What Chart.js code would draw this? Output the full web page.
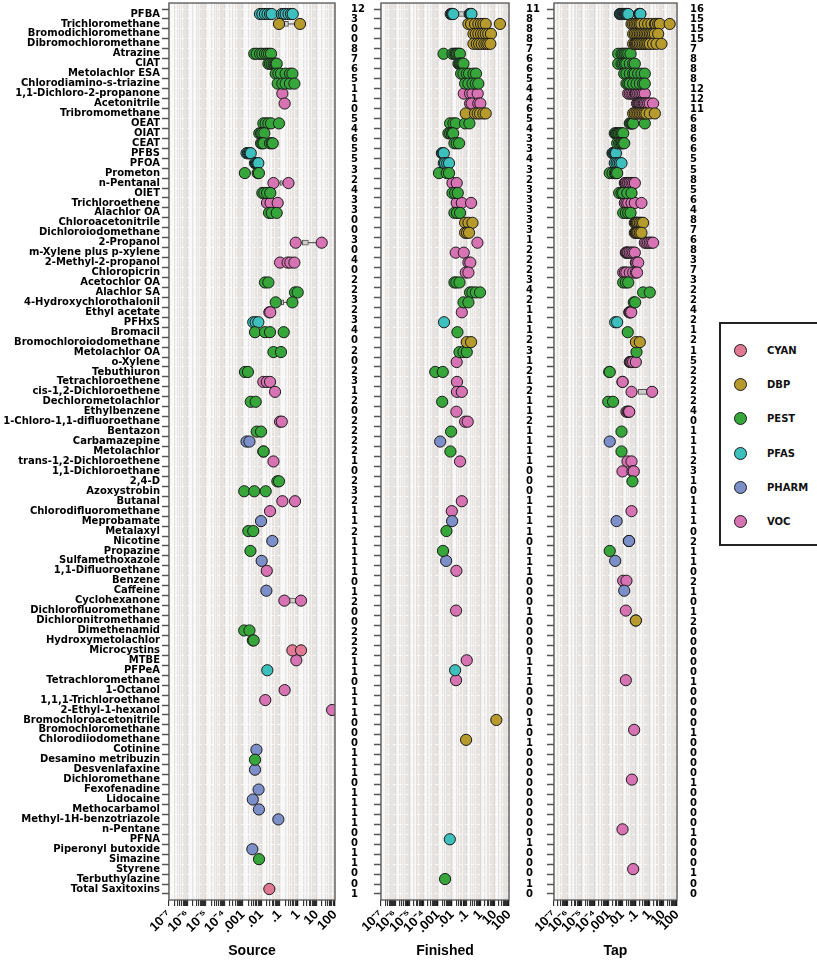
<!DOCTYPE html>
<html>
<head>
<meta charset="utf-8">
<script src="https://cdn.jsdelivr.net/npm/chart.js@4.4.0/dist/chart.umd.min.js"></script>
<style>
  body { margin: 0; background: #fff; width: 817px; height: 962px; position: relative; overflow: hidden;
         font-family: "DejaVu Sans", Arial, sans-serif; }
  canvas { position: absolute; top: 0; }
  #legend { position: absolute; left: 719px; top: 322px; width: 110px; height: 224px;
            border: 2px solid #222; box-sizing: border-box; background: #fff; }
  .item { position: absolute; left: 0; height: 14px; font-weight: bold; font-size: 10px; color: #111; }
  .dot { position: absolute; left: 13px; top: 0; width: 11px; height: 11px; border-radius: 50%; border: 1px solid #1b1b1b; }
  .lab { position: absolute; left: 46px; top: 0; line-height: 13px; }
</style>
</head>
<body>
<canvas id="srcChart" width="365" height="962" style="left:0px"></canvas>
<canvas id="finChart" width="200" height="962" style="left:345px"></canvas>
<canvas id="tapChart" width="195" height="962" style="left:520px"></canvas>
<div id="legend"></div>

<script>
const chemicals = ["PFBA","Trichloromethane","Bromodichloromethane","Dibromochloromethane","Atrazine","CIAT",
  "Metolachlor ESA","Chlorodiamino-s-triazine","1,1-Dichloro-2-propanone","Acetonitrile","Tribromomethane",
  "OEAT","OIAT","CEAT","PFBS","PFOA","Prometon","n-Pentanal","OIET","Trichloroethene","Alachlor OA",
  "Chloroacetonitrile","Dichloroiodomethane","2-Propanol","m-Xylene plus p-xylene","2-Methyl-2-propanol",
  "Chloropicrin","Acetochlor OA","Alachlor SA","4-Hydroxychlorothalonil","Ethyl acetate","PFHxS","Bromacil",
  "Bromochloroiodomethane","Metolachlor OA","o-Xylene","Tebuthiuron","Tetrachloroethene","cis-1,2-Dichloroethene",
  "Dechlorometolachlor","Ethylbenzene","1-Chloro-1,1-difluoroethane","Bentazon","Carbamazepine","Metolachlor",
  "trans-1,2-Dichloroethene","1,1-Dichloroethane","2,4-D","Azoxystrobin","Butanal","Chlorodifluoromethane",
  "Meprobamate","Metalaxyl","Nicotine","Propazine","Sulfamethoxazole","1,1-Difluoroethane","Benzene","Caffeine",
  "Cyclohexanone","Dichlorofluoromethane","Dichloronitromethane","Dimethenamid","Hydroxymetolachlor",
  "Microcystins","MTBE","PFPeA","Tetrachloromethane","1-Octanol","1,1,1-Trichloroethane","2-Ethyl-1-hexanol",
  "Bromochloroacetonitrile","Bromochloromethane","Chlorodiiodomethane","Cotinine","Desamino metribuzin",
  "Desvenlafaxine","Dichloromethane","Fexofenadine","Lidocaine","Methocarbamol","Methyl-1H-benzotriazole",
  "n-Pentane","PFNA","Piperonyl butoxide","Simazine","Styrene","Terbuthylazine","Total Saxitoxins"];

const chemClass = ["PFAS","DBP","DBP","DBP","PEST","PEST","PEST","PEST","VOC","VOC","DBP","PEST","PEST","PEST",
  "PFAS","PFAS","PEST","VOC","PEST","VOC","PEST","DBP","DBP","VOC","VOC","VOC","VOC","PEST","PEST","PEST","VOC",
  "PFAS","PEST","DBP","PEST","VOC","PEST","VOC","VOC","PEST","VOC","VOC","PEST","PHARM","PEST","VOC","VOC","PEST",
  "PEST","VOC","VOC","PHARM","PEST","PHARM","PEST","PHARM","VOC","VOC","PHARM","VOC","VOC","DBP","PEST","PEST",
  "CYAN","VOC","PFAS","VOC","VOC","VOC","VOC","DBP","VOC","DBP","PHARM","PEST","PHARM","VOC","PHARM","PHARM",
  "PHARM","PHARM","VOC","PFAS","PHARM","PEST","VOC","PEST","CYAN"];

const classes = ["CYAN","DBP","PEST","PFAS","PHARM","VOC"];

// detection counts shown at the right of each panel
const sourceN = [12,3,0,0,8,7,6,5,1,1, 0,5,4,6,5,5,3,2,4,3, 3,0,0,3,0,4,0,2,2,3, 2,3,4,0,2,0,2,3,1,2,
  0,2,2,2,2,1,0,2,3,2, 1,1,2,1,1,1,1,0,1,2, 0,0,2,2,2,1,1,0,1,1, 1,0,0,0,1,1,1,0,1,1, 1,1,0,0,1,1,0,0,1];
const finishedN = [11,8,8,8,7,6,6,5,4,4, 6,5,4,3,3,4,3,2,3,3, 3,3,3,1,2,2,2,3,4,2, 1,1,1,2,3,1,2,1,2,1,
  1,2,1,1,1,1,0,0,0,1, 1,1,1,0,1,1,1,0,0,0, 1,0,0,0,0,1,1,1,0,0, 0,1,0,1,0,0,0,0,0,0, 0,0,0,1,0,0,0,1,0];
const tapN = [16,15,15,15,7,8,8,8,12,12, 11,6,8,6,6,5,5,8,5,6, 4,8,7,6,8,3,7,3,2,2, 4,2,1,2,1,5,2,2,2,2,
  4,0,1,1,1,2,3,1,0,1, 1,1,0,2,1,1,0,2,1,0, 1,2,0,0,0,0,0,1,0,0, 0,0,1,0,0,0,0,1,0,0, 0,0,1,0,0,0,1,0,0];

// concentrations per chemical (same order as chemicals)
const sourceVals = [
  [0.0086,0.0115,0.016,0.022,0.030,0.037,0.13,0.166,0.21,0.30,0.41,0.51],
  [0.092,1.27], [], [],
  [0.0042,0.0057,0.0086,0.0115,0.016,0.0206,0.0265,0.034],
  [0.0245,0.030,0.037,0.046,0.052,0.061,0.069],
  [0.061,0.085,0.118,0.21,0.36,0.49],
  [0.078,0.14,0.21,0.36,0.63],
  [0.14], [0.186], [],
  [0.013,0.0175,0.0245,0.034,0.092],
  [0.0079,0.0098,0.0115,0.0148],
  [0.0098,0.0115,0.0135,0.030,0.037,0.042],
  [0.0016,0.0019,0.0021,0.0024,0.0027],
  [0.0046,0.0052,0.0059,0.0064,0.0070],
  [0.0013,0.0064,0.0075],
  [0.046,0.30],
  [0.0115,0.0148,0.0206,0.031],
  [0.0206,0.032,0.078],
  [0.0265,0.037,0.069],
  [], [],
  [0.74,19], [],
  [0.105,0.27,0.38,0.63], [],
  [0.016,0.0245],
  [0.68,0.95],
  [0.061,0.49],
  [0.0275,0.031],
  [0.0037,0.0050,0.0070],
  [0.0046,0.016,0.030,0.166], [],
  [0.046,0.118], [],
  [0.00132,0.0019],
  [0.013,0.020,0.030],
  [0.056],
  [0.0027,0.0050], [],
  [0.105,0.13],
  [0.0057,0.0098],
  [0.0016,0.0023],
  [0.013,0.0135],
  [0.046], [],
  [0.075,0.092],
  [0.0012,0.0042,0.0175],
  [0.14,0.68],
  [0.030], [0.0098],
  [0.0020,0.0037],
  [0.040], [0.0026], [0.0106], [0.020], [], [0.019],
  [0.18,1.44], [], [],
  [0.0012,0.0023],
  [0.0035,0.0039],
  [0.49,1.44],
  [0.80], [0.0214], [], [0.186], [0.0166], [70], [], [], [],
  [0.0055], [0.0046], [0.0046], [], [0.0072], [0.0035], [0.0075], [0.085], [], [],
  [0.0033], [0.0076], [], [], [0.0275]
];

const finishedVals = [
  [0.0080,0.0095,0.0106,0.012,0.17,0.19,0.215,0.23],
  [0.14,0.215,0.41,0.70,1.08,1.58,2.3,23],
  [0.315,0.46,0.70,1.08,1.58,2.3,3.5,5.4],
  [0.315,0.54,0.79,1.2,1.85,2.6,3.5,4.9],
  [0.0025,0.0106,0.0146,0.018,0.022,0.028,0.035],
  [0.028,0.033,0.038,0.045,0.053,0.063],
  [0.043,0.063,0.107,0.155,0.315,0.48],
  [0.082,0.14,0.27,0.46,0.70],
  [0.066,0.183,0.27,0.63],
  [0.183,0.24,0.70,0.97],
  [0.091,0.41,0.63,0.92,1.58,2.3],
  [0.0072,0.0124,0.018,0.082,0.165],
  [0.0055,0.0072,0.0095,0.0118],
  [0.0146,0.021,0.031],
  [0.0019,0.0022,0.0026],
  [0.0026,0.0032,0.0045,0.0061],
  [0.0012,0.0042,0.0061],
  [0.0106,0.021],
  [0.0106,0.0163,0.025],
  [0.021,0.048,0.215],
  [0.0146,0.022,0.036],
  [0.082,0.14,0.27],
  [0.082,0.112,0.155],
  [0.60],
  [0.018,0.066],
  [0.14,0.19],
  [0.091,0.14],
  [0.0146,0.020,0.033],
  [0.183,0.27,0.46,0.92],
  [0.063,0.14],
  [0.048], [0.0027], [0.0237],
  [0.107,0.215],
  [0.033,0.063,0.107],
  [0.021],
  [0.00065,0.0022],
  [0.022],
  [0.022,0.048],
  [0.0020], [0.020],
  [0.082,0.125],
  [0.0085], [0.00145], [0.0076], [0.036], [], [], [],
  [0.048], [0.0095], [0.0100], [0.0040], [], [0.0023], [0.0038], [0.020], [], [], [],
  [0.019], [], [], [], [], [0.107], [0.0163], [0.019], [], [], [],
  [12.9], [], [0.096], [], [], [], [], [], [], [], [], [],
  [0.0069], [], [], [], [0.0032], []
];

const tapVals = [
  [0.0066,0.0074,0.0087,0.0103,0.0116,0.0137,0.0153,0.018,0.020,0.023,0.027,0.17,0.18,0.19,0.20,0.21],
  [0.047,0.062,0.082,0.109,0.144,0.19,0.25,0.44,0.77,1.35,2.4,2.8,4.2,5.5,29],
  [0.062,0.082,0.109,0.144,0.19,0.25,0.33,0.44,0.58,0.77,1.02,1.35,1.78,2.4,4.2],
  [0.062,0.082,0.097,0.12,0.144,0.19,0.25,0.33,0.44,0.58,0.77,1.02,1.78,3.2,7.3],
  [0.0050,0.0087,0.0116,0.0153,0.020,0.027,0.040],
  [0.0050,0.0087,0.0116,0.0153,0.020,0.035,0.062,0.082],
  [0.0137,0.020,0.035,0.062,0.082,0.144,0.25,0.44],
  [0.020,0.027,0.035,0.062,0.109,0.19,0.33,0.44],
  [0.027,0.035,0.047,0.062,0.082,0.097,0.109,0.144,0.19,0.25,0.33,0.44],
  [0.12,0.144,0.17,0.20,0.25,0.30,0.37,0.44,0.58,0.77,1.02,1.78],
  [0.062,0.082,0.109,0.144,0.19,0.25,0.33,0.44,0.58,1.02,2.4],
  [0.035,0.040,0.047,0.055,0.062,0.44],
  [0.0028,0.0034,0.0042,0.0050,0.0059,0.0074,0.0092,0.0116],
  [0.0042,0.0059,0.0074,0.0092,0.0116,0.0137],
  [0.0019,0.0021,0.0025,0.0028,0.0030,0.0034],
  [0.0028,0.0038,0.0050,0.0066,0.0087],
  [0.0012,0.0019,0.0028,0.0034,0.0042],
  [0.0153,0.018,0.023,0.027,0.035,0.047,0.062,0.082],
  [0.0059,0.0087,0.0116,0.023,0.047],
  [0.0153,0.020,0.027,0.047,0.082,0.25],
  [0.0116,0.018,0.027,0.040],
  [0.082,0.097,0.109,0.12,0.144,0.19,0.25,0.33],
  [0.082,0.097,0.109,0.12,0.144,0.19,0.25],
  [0.44,0.58,0.77,1.02,1.35,1.78],
  [0.018,0.020,0.023,0.027,0.035,0.047,0.062,0.082],
  [0.097,0.109,0.144],
  [0.0116,0.0153,0.020,0.035,0.062,0.097,0.12],
  [0.0116,0.018,0.027],
  [0.33,1.02],
  [0.069,0.087],
  [0.032,0.035,0.040,0.045],
  [0.0030,0.0042],
  [0.025],
  [0.097,0.19],
  [0.109],
  [0.035,0.040,0.047,0.062,0.097],
  [0.0011,0.0012],
  [0.0103,0.0105],
  [0.047,1.51],
  [0.00093,0.0021],
  [0.020,0.025,0.030,0.032],
  [],
  [0.0087], [0.0012], [0.0087],
  [0.024,0.047],
  [0.0103,0.055,0.069],
  [0.055], [], [], [0.047], [0.0038], [],
  [0.030,0.031], [0.0012], [0.0030], [],
  [0.0116,0.020], [0.0137], [], [0.018], [0.097,0.099], [], [], [], [], [],
  [0.018], [], [], [], [], [0.073], [], [], [], [], [0.050], [], [], [], [],
  [0.0103], [], [], [], [0.062], [], []
];

// range boxes: [row, low, boxLow, boxHigh, high]
const sourceBoxes = [[1,0.092,0.18,0.30,1.27],[17,0.046,0.105,0.14,0.30],[23,0.74,1.7,3.6,19],
  [29,0.061,0.118,0.166,0.49],[59,0.18,0.32,0.84,1.44]];
const finishedBoxes = [[0,0.0106,0.028,0.082,0.215]];
const tapBoxes = [[38,0.047,0.144,0.65,1.51]];

const xTickValues = [1e-7,1e-6,1e-5,1e-4,1e-3,1e-2,1e-1,1,10,100];
const xTickLabels = ["10\u207B\u2077","10\u207B\u2076","10\u207B\u2075","10\u207B\u2074",".001",".01",".1","1","10","100"];

const colors = { CYAN: "#e17994", DBP: "#b69a2c", PEST: "#36a63b", PFAS: "#3dbfbd", PHARM: "#7d8fc8", VOC: "#d873b3" };

const labelFont = { family: '"DejaVu Sans", Arial, sans-serif', size: 10, weight: "bold" };
Chart.defaults.font.family = '"Liberation Sans", Arial, sans-serif';
Chart.defaults.font.weight = "bold";
Chart.defaults.color = "#000";

// minor grid positions 1..9 per decade
const gridValues = [];
for (let d = 0; d < xTickValues.length - 1; d++) {
  for (let k = 1; k <= 9; k++) gridValues.push(k * xTickValues[d]);
}
gridValues.push(xTickValues[xTickValues.length - 1]);

function majorIndex(v) {
  return xTickValues.findIndex(t => Math.abs(v / t - 1) < 1e-6);
}

const frame = {
  id: "frame",
  beforeDraw(chart) {
    const { ctx, chartArea: a } = chart;
    ctx.save();
    ctx.fillStyle = "#f9f8f8";
    ctx.fillRect(a.left, a.top, a.right - a.left, a.bottom - a.top);
    ctx.restore();
  },
  afterDraw(chart) {
    const { ctx, chartArea: a } = chart;
    ctx.save();
    ctx.strokeStyle = "#555";
    ctx.lineWidth = 1.3;
    ctx.strokeRect(a.left, a.top, a.right - a.left, a.bottom - a.top);
    ctx.restore();
  }
};

function makePanel(id, vals, counts, boxes, title, leftW, rightW, countPad, showNames) {
  const datasets = classes.map(c => ({
    type: "scatter",
    label: c,
    order: 0,
    data: vals.flatMap((row, i) => chemClass[i] === c ? row.map(v => ({ x: v, y: i })) : []),
    backgroundColor: colors[c],
    borderColor: "#1b1b1b",
    borderWidth: 1,
    pointRadius: 5.6
  }));
  boxes.forEach(b => {
    datasets.push({
      type: "scatter", showLine: true, order: 2,
      data: [{ x: b[1], y: b[0] }, { x: b[4], y: b[0] }],
      borderColor: "#444", borderWidth: 1, pointRadius: 0
    });
  });
  if (boxes.length) {
    datasets.push({
      type: "bar", indexAxis: "y", order: 1,
      data: boxes.map(b => ({ y: b[0], x: [b[2], b[3]] })),
      backgroundColor: "#cfcdcb", borderColor: "#555", borderWidth: 1,
      barThickness: 5, borderSkipped: false
    });
  }

  return new Chart(document.getElementById(id), {
    type: "scatter",
    data: { datasets },
    options: {
      responsive: false,
      animation: false,
      devicePixelRatio: 1,
      layout: { padding: { top: 3, bottom: 0, left: 0, right: 0 }, autoPadding: false },
      plugins: { legend: { display: false }, tooltip: { enabled: false } },
      scales: {
        x: {
          type: "logarithmic", min: 1e-7, max: 100,
          afterBuildTicks: s => { s.ticks = gridValues.map(v => ({ value: v })); },
          afterFit: s => { s.height = 62; s.paddingLeft = 0; s.paddingRight = 0; },
          ticks: {
            autoSkip: false, minRotation: 45, maxRotation: 45, padding: 1,
            font: { size: 13, weight: "bold" }, color: "#000",
            callback: v => { const j = majorIndex(v); return j >= 0 ? xTickLabels[j] : ""; }
          },
          grid: {
            color: c => (c.tick && majorIndex(c.tick.value) >= 0) ? "#dcd9d6" : "#e6e3e1",
            lineWidth: 1.3, drawTicks: true, tickLength: 6, tickColor: "#111", tickWidth: 1
          },
          border: { display: false },
          title: { display: true, text: title, font: { size: 14, weight: "bold" }, color: "#000",
                   padding: { top: 0, bottom: 2 } }
        },
        y: {
          type: "linear", position: "left", reverse: true, min: -0.6, max: 88.6,
          afterBuildTicks: s => { s.ticks = chemicals.map((_, i) => ({ value: i })); },
          afterFit: s => { s.width = leftW; s.paddingTop = 0; s.paddingBottom = 0; },
          ticks: {
            autoSkip: false, padding: 2, font: labelFont, color: "#000",
            callback: v => showNames ? chemicals[v] : ""
          },
          grid: { color: "rgba(255,255,255,0.75)", lineWidth: 1, tickLength: 7, tickColor: "#555", tickWidth: 1.5 },
          border: { display: false, dash: [3, 3] }
        },
        y2: {
          type: "linear", position: "right", reverse: true, min: -0.6, max: 88.6,
          afterBuildTicks: s => { s.ticks = chemicals.map((_, i) => ({ value: i })); },
          afterFit: s => { s.width = rightW; s.paddingTop = 0; s.paddingBottom = 0; },
          ticks: {
            autoSkip: false, padding: countPad, font: labelFont, color: "#000",
            callback: v => String(counts[v])
          },
          grid: { display: false },
          border: { display: false }
        }
      }
    },
    plugins: [frame]
  });
}

makePanel("srcChart", sourceVals, sourceN, sourceBoxes, "Source", 169, 30, 8, true);
makePanel("finChart", finishedVals, finishedN, finishedBoxes, "Finished", 36, 36, 9, false);
makePanel("tapChart", tapVals, tapN, tapBoxes, "Tap", 34, 38, 5, false);

// legend
const legend = document.getElementById("legend");
classes.forEach((c, i) => {
  const item = document.createElement("div");
  item.className = "item";
  item.style.top = (20 + i * 34.2) + "px";
  item.innerHTML = '<span class="dot" style="background:' + colors[c] + '"></span><span class="lab">' + c + "</span>";
  legend.appendChild(item);
});
</script>
</body>
</html>
